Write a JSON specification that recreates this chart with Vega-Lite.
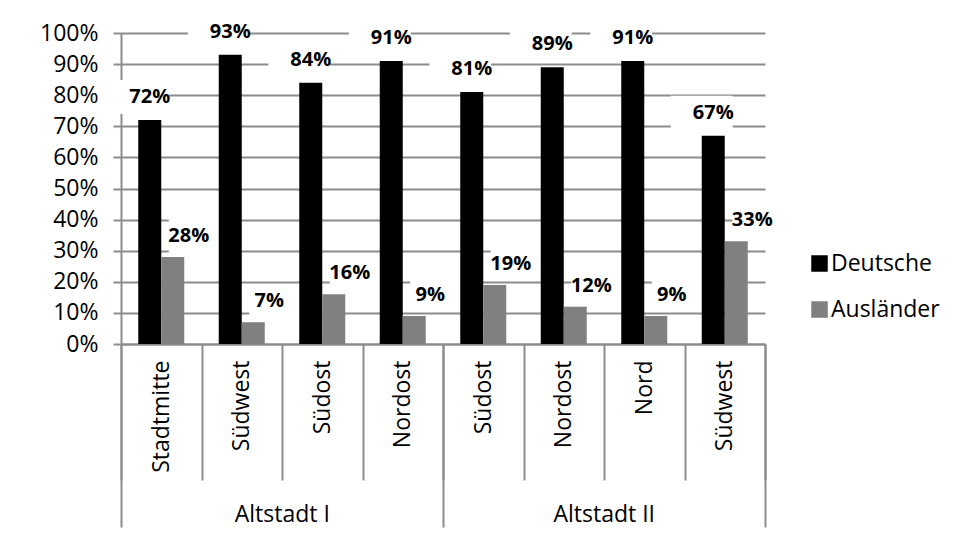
{
  "$schema": "https://vega.github.io/schema/vega-lite/v6.json",
  "autosize": "none",
  "width": 644,
  "height": 311,
  "padding": {"left": 121, "top": 33, "right": 189, "bottom": 216},
  "background": "white",
  "config": {
    "font": "Open Sans",
    "view": {"stroke": null},
    "axis": {
      "labelFont": "Open Sans",
      "labelFontSize": 23,
      "labelColor": "#000000",
      "domainColor": "#8c8c8c",
      "domainWidth": 2,
      "tickColor": "#8c8c8c",
      "tickWidth": 2,
      "gridColor": "#8c8c8c",
      "gridWidth": 2,
      "title": null
    },
    "legend": {
      "labelFont": "Open Sans",
      "labelFontSize": 23,
      "labelColor": "#000000"
    }
  },
  "data": {
    "values": [
      {"gebiet": "Altstadt I", "bezirk": "I|Stadtmitte", "series": "Deutsche", "value": 0.72},
      {"gebiet": "Altstadt I", "bezirk": "I|Stadtmitte", "series": "Ausländer", "value": 0.28},
      {"gebiet": "Altstadt I", "bezirk": "I|Südwest", "series": "Deutsche", "value": 0.93},
      {"gebiet": "Altstadt I", "bezirk": "I|Südwest", "series": "Ausländer", "value": 0.07},
      {"gebiet": "Altstadt I", "bezirk": "I|Südost", "series": "Deutsche", "value": 0.84},
      {"gebiet": "Altstadt I", "bezirk": "I|Südost", "series": "Ausländer", "value": 0.16},
      {"gebiet": "Altstadt I", "bezirk": "I|Nordost", "series": "Deutsche", "value": 0.91},
      {"gebiet": "Altstadt I", "bezirk": "I|Nordost", "series": "Ausländer", "value": 0.09},
      {"gebiet": "Altstadt II", "bezirk": "II|Südost", "series": "Deutsche", "value": 0.81},
      {"gebiet": "Altstadt II", "bezirk": "II|Südost", "series": "Ausländer", "value": 0.19},
      {"gebiet": "Altstadt II", "bezirk": "II|Nordost", "series": "Deutsche", "value": 0.89},
      {"gebiet": "Altstadt II", "bezirk": "II|Nordost", "series": "Ausländer", "value": 0.12},
      {"gebiet": "Altstadt II", "bezirk": "II|Nord", "series": "Deutsche", "value": 0.91},
      {"gebiet": "Altstadt II", "bezirk": "II|Nord", "series": "Ausländer", "value": 0.09},
      {"gebiet": "Altstadt II", "bezirk": "II|Südwest", "series": "Deutsche", "value": 0.67},
      {"gebiet": "Altstadt II", "bezirk": "II|Südwest", "series": "Ausländer", "value": 0.33}
    ]
  },
  "encoding": {
    "y": {
      "field": "value",
      "type": "quantitative",
      "scale": {"domain": [0, 1], "nice": false, "zero": true},
      "axis": {
        "values": [0, 0.1, 0.2, 0.3, 0.4, 0.5, 0.6, 0.7, 0.8, 0.9, 1],
        "format": ".0%",
        "tickSize": 8,
        "labelPadding": 15,
        "grid": true,
        "domain": true
      }
    },
    "xOffset": {
      "field": "series",
      "type": "nominal",
      "sort": ["Deutsche", "Ausländer"],
      "scale": {"paddingOuter": 0.75, "paddingInner": 0}
    }
  },
  "layer": [
    {
      "transform": [{"filter": "datum.series === 'Deutsche'"}],
      "mark": {"type": "point", "filled": true, "color": "white", "opacity": 1, "size": 3600, "strokeWidth": 0, "shape": "M-1.413,-1.333H0.647V-0.2H-1.413Z"},
      "encoding": {
        "x": {
          "field": "bezirk",
          "type": "nominal",
          "sort": null,
          "scale": {"paddingInner": 0, "paddingOuter": 0},
          "axis": {
            "orient": "bottom",
            "tickBand": "extent",
            "tickSize": 183,
            "tickOpacity": {"condition": {"test": "datum.extra || datum.value === 'I|Nordost' || datum.value === 'II|Südwest'", "value": 1}, "value": 0},
            "domain": false,
            "grid": false,
            "labelAngle": 0,
            "labelAlign": "center",
            "labelBaseline": "top",
            "labelOffset": 40,
            "labelPadding": -24,
            "labelExpr": "datum.value === 'I|Südwest' ? 'Altstadt I' : datum.value === 'II|Nordost' ? 'Altstadt II' : ''"
          }
        }
      }
    },
    {
      "transform": [{"filter": "datum.series === 'Ausländer'"}],
      "mark": {"type": "point", "filled": true, "color": "white", "opacity": 1, "size": 3600, "strokeWidth": 0, "shape": "M-0.133,-1.267H1.867V-0.133H-0.133Z"},
      "encoding": {
        "x": {"field": "bezirk", "type": "nominal", "sort": null, "axis": null}
      }
    },
    {
      "mark": {"type": "bar", "width": 23},
      "encoding": {
        "x": {
          "field": "bezirk",
          "type": "nominal",
          "sort": null,
          "axis": {
            "orient": "bottom",
            "tickBand": "extent",
            "tickSize": 136,
            "domain": true,
            "grid": false,
            "labelAngle": 270,
            "labelAlign": "right",
            "labelBaseline": "middle",
            "labelPadding": -120,
            "labelExpr": "isString(datum.value) ? substring(datum.value, indexof(datum.value, '|') + 1) : ''"
          }
        },
        "color": {
          "field": "series",
          "type": "nominal",
          "sort": ["Deutsche", "Ausländer"],
          "scale": {"domain": ["Deutsche", "Ausländer"], "range": ["#000000", "#808080"]},
          "legend": {
            "title": null,
            "orient": "none",
            "legendX": 687,
            "legendY": 219,
            "padding": 0,
            "symbolType": "square",
            "symbolSize": 272,
            "symbolStrokeWidth": 0,
            "labelOffset": 0,
            "rowPadding": 22
          }
        }
      }
    },
    {
      "transform": [{"filter": "datum.series === 'Deutsche'"}],
      "mark": {"type": "text", "font": "Open Sans", "fontWeight": "bold", "fontSize": 20, "dy": -23, "baseline": "middle", "align": "center", "color": "#000000"},
      "encoding": {
        "x": {"field": "bezirk", "type": "nominal", "sort": null, "axis": null},
        "text": {"field": "value", "type": "quantitative", "format": ".0%"}
      }
    },
    {
      "transform": [{"filter": "datum.series === 'Ausländer'"}],
      "mark": {"type": "text", "font": "Open Sans", "fontWeight": "bold", "fontSize": 20, "dx": 16, "dy": -21, "baseline": "middle", "align": "center", "color": "#000000"},
      "encoding": {
        "x": {"field": "bezirk", "type": "nominal", "sort": null, "axis": null},
        "text": {"field": "value", "type": "quantitative", "format": ".0%"}
      }
    }
  ],
  "resolve": {"axis": {"x": "independent"}}
}
